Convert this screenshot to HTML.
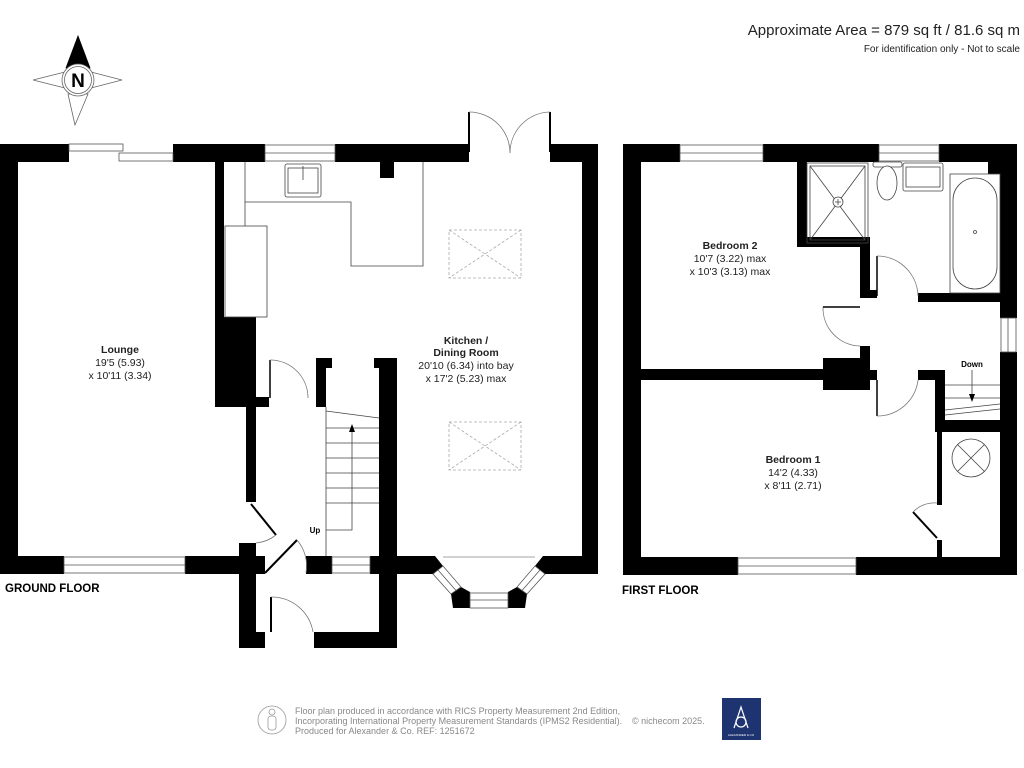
<!DOCTYPE html>
<html><head><meta charset="utf-8"><style>
html,body{margin:0;padding:0;background:#fff;}
svg{display:block;}
text{font-family:"Liberation Sans",sans-serif;}
</style></head><body>
<svg width="1024" height="768" viewBox="0 0 1024 768" xmlns="http://www.w3.org/2000/svg">
<rect width="1024" height="768" fill="#fff"/>
<!-- header -->
<text x="1020" y="35" font-size="15" text-anchor="end" fill="#222">Approximate Area = 879 sq ft / 81.6 sq m</text>
<text x="1020" y="52" font-size="10" text-anchor="end" fill="#222">For identification only - Not to scale</text>
<!-- compass -->
<g stroke="#666" stroke-width="0.8" fill="#fff">
<polygon points="33,80 65,72 65,88"/>
<polygon points="122,80 91,72 91,88"/>
<polygon points="75,125 68,94 88,94"/>
<polygon points="78,36 66,68 90,68" fill="#000" stroke="#000"/>
<circle cx="78" cy="80" r="16"/>
<circle cx="78" cy="80" r="13.5"/>
</g>
<text x="78" y="87" font-size="19" font-weight="bold" text-anchor="middle">N</text>

<!-- ===== GROUND FLOOR ===== -->
<g fill="#000">
<rect x="0" y="144" width="69" height="18"/>
<rect x="173" y="144" width="92" height="18"/>
<rect x="335" y="144" width="134" height="18"/>
<rect x="550" y="144" width="48" height="18"/>
<rect x="0" y="144" width="18" height="430"/>
<rect x="582" y="144" width="16" height="430"/>
<rect x="0" y="556" width="64" height="18"/>
<rect x="185" y="556" width="80" height="18"/>
<rect x="306" y="556" width="26" height="18"/>
<rect x="370" y="556" width="65" height="18"/>
<rect x="543" y="556" width="55" height="18"/>
<rect x="215" y="162" width="9" height="245"/>
<rect x="215" y="317" width="41" height="90"/>
<rect x="246" y="397" width="23" height="10"/>
<rect x="246" y="407" width="10" height="95"/>
<rect x="246" y="543" width="10" height="31"/>
<rect x="316" y="358" width="16" height="10"/>
<rect x="316" y="358" width="10" height="49"/>
<rect x="374" y="358" width="23" height="10"/>
<rect x="379" y="358" width="18" height="216"/>
<rect x="239" y="543" width="17" height="105"/>
<rect x="239" y="632" width="26" height="16"/>
<rect x="314" y="632" width="83" height="16"/>
<rect x="379" y="574" width="18" height="74"/>
<rect x="380" y="162" width="14" height="16"/>
<!-- bay -->
<polygon points="430,556 435,556 443,566 433,574 430,574"/>
<polygon points="451,594 461,587 470,592 470,608 453,608"/>
<polygon points="548,556 543,556 535,566 545,574 548,574"/>
<polygon points="527,594 517,587 508,592 508,608 525,608"/>
</g>
<g fill="#fff" stroke="#555" stroke-width="0.8">
<rect x="69" y="144" width="54" height="7"/>
<rect x="119" y="153" width="54" height="8"/>
<rect x="265" y="145" width="70" height="16"/>
<line x1="265" y1="153" x2="335" y2="153"/>
<rect x="64" y="557" width="121" height="16"/>
<line x1="64" y1="565" x2="185" y2="565"/>
<rect x="332" y="557" width="38" height="16"/>
<line x1="332" y1="565" x2="370" y2="565"/>
<rect x="470" y="593" width="38" height="15"/>
<line x1="470" y1="600" x2="508" y2="600"/>
<polygon points="433,574 443,566 461,587 451,594"/>
<line x1="438" y1="570" x2="456" y2="590.5"/>
<polygon points="545,574 535,566 517,587 527,594"/>
<line x1="540" y1="570" x2="522" y2="590.5"/>
<line x1="443" y1="557" x2="535" y2="557" stroke="#888"/>
</g>
<!-- french doors -->
<g fill="none" stroke="#000">
<line x1="469" y1="112" x2="469" y2="152" stroke-width="2"/>
<line x1="550" y1="112" x2="550" y2="152" stroke-width="2"/>
<path d="M469,112 A41,41 0 0 1 510,153" stroke="#777" stroke-width="0.8"/>
<path d="M550,112 A41,41 0 0 0 510,153" stroke="#777" stroke-width="0.8"/>
</g>
<!-- kitchen fittings -->
<g fill="none" stroke="#444" stroke-width="0.8">
<path d="M245,162 V226 M245,202 H351 V266 H423 V162"/>
<rect x="225" y="226" width="42" height="91" fill="#fff"/>
<rect x="285" y="164" width="36" height="33" rx="2"/>
<rect x="288" y="168" width="30" height="25"/>
<line x1="303" y1="166" x2="303" y2="180"/>
<g stroke="#aaa" stroke-dasharray="3,2">
<rect x="449" y="230" width="72" height="48"/>
<path d="M449,230 L521,278 M521,230 L449,278"/>
<rect x="449" y="422" width="72" height="48"/>
<path d="M449,422 L521,470 M521,422 L449,470"/>
</g>
<path d="M326,407 V556 M326,411 L379,418 M326,428 H379 M326,443 H379 M326,458 H379 M326,473 H379 M326,488 H379 M326,503 H379"/>
<path d="M326,530 H352 V428"/>
<line x1="270" y1="360" x2="270" y2="398" stroke="#000" stroke-width="1.5"/>
<path d="M270,360 A38,38 0 0 1 308,398" stroke="#777"/>
<line x1="251" y1="504" x2="276" y2="535" stroke="#000" stroke-width="2"/>
<path d="M256,543 A38,38 0 0 0 276,535" stroke="#777"/>
<line x1="265" y1="573" x2="297" y2="540" stroke="#000" stroke-width="2"/>
<path d="M297,540 A40,40 0 0 1 306,573" stroke="#777"/>
<line x1="271" y1="597" x2="271" y2="632" stroke="#000" stroke-width="2"/>
<path d="M271,597 A42,42 0 0 1 313,632" stroke="#777"/>
</g>
<polygon points="352,424 349,432 355,432" fill="#000"/>
<text x="315" y="533" font-size="8" font-weight="bold" text-anchor="middle">Up</text>
<g font-size="10.5" text-anchor="middle" fill="#222">
<text x="120" y="353" font-weight="bold">Lounge</text>
<text x="120" y="366">19'5 (5.93)</text>
<text x="120" y="379">x 10'11 (3.34)</text>
<text x="466" y="344" font-weight="bold">Kitchen /</text>
<text x="466" y="356" font-weight="bold">Dining Room</text>
<text x="466" y="369">20'10 (6.34) into bay</text>
<text x="466" y="382">x 17'2 (5.23) max</text>
</g>
<text x="5" y="592" font-size="11.5" font-weight="bold">GROUND FLOOR</text>

<!-- ===== FIRST FLOOR ===== -->
<g fill="#000">
<rect x="623" y="144" width="57" height="18"/>
<rect x="763" y="144" width="116" height="18"/>
<rect x="939" y="144" width="78" height="18"/>
<rect x="988" y="160" width="29" height="14"/>
<rect x="623" y="144" width="18" height="431"/>
<rect x="1000" y="144" width="17" height="174"/>
<rect x="1000" y="352" width="17" height="223"/>
<rect x="623" y="557" width="115" height="18"/>
<rect x="856" y="557" width="161" height="18"/>
<rect x="797" y="162" width="10" height="85"/>
<rect x="797" y="237" width="73" height="10"/>
<rect x="860" y="237" width="10" height="59"/>
<rect x="860" y="290" width="17" height="8"/>
<rect x="918" y="293" width="82" height="9"/>
<rect x="641" y="369" width="182" height="11"/>
<rect x="823" y="358" width="47" height="32"/>
<rect x="860" y="346" width="10" height="44"/>
<rect x="870" y="370" width="7" height="10"/>
<rect x="918" y="370" width="27" height="10"/>
<rect x="935" y="370" width="10" height="62"/>
<rect x="935" y="420" width="65" height="12"/>
<rect x="937" y="432" width="5" height="73"/>
<rect x="937" y="540" width="5" height="17"/>
</g>
<g fill="#fff" stroke="#555" stroke-width="0.8">
<rect x="680" y="145" width="83" height="16"/><line x1="680" y1="153" x2="763" y2="153"/>
<rect x="879" y="145" width="60" height="16"/><line x1="879" y1="153" x2="939" y2="153"/>
<rect x="738" y="558" width="118" height="16"/><line x1="738" y1="566" x2="856" y2="566"/>
<rect x="1001" y="318" width="15" height="34"/><line x1="1008" y1="318" x2="1008" y2="352"/>
</g>
<g fill="none" stroke="#444" stroke-width="0.8">
<rect x="807" y="163" width="61" height="80"/>
<rect x="810" y="166" width="55" height="74"/>
<path d="M810,166 L865,240 M865,166 L810,240"/>
<circle cx="838" cy="202" r="5" fill="#fff"/>
<path d="M835,202 H841 M838,199 V205"/>
<rect x="873" y="162" width="29" height="5" rx="2"/>
<ellipse cx="887" cy="183" rx="10" ry="17" fill="#fff"/>
<rect x="903" y="163" width="40" height="28" rx="2"/>
<rect x="906" y="167" width="34" height="20"/>
<rect x="950" y="174" width="50" height="119"/>
<rect x="953" y="178" width="44" height="111" rx="22"/>
<circle cx="975" cy="232" r="1.5"/>
<line x1="877" y1="256" x2="877" y2="296" stroke="#000" stroke-width="1.5"/>
<path d="M877,256 A41,41 0 0 1 918,296" stroke="#777"/>
<path d="M823,307 A38,38 0 0 0 860,346" stroke="#777"/>
<line x1="823" y1="307" x2="860" y2="307" stroke="#000" stroke-width="1.5"/>
<line x1="877" y1="380" x2="877" y2="416" stroke="#000" stroke-width="1.5"/>
<path d="M877,416 A41,41 0 0 0 918,380" stroke="#777"/>
<line x1="913" y1="512" x2="937" y2="538" stroke="#000" stroke-width="2"/>
<path d="M913,512 A30,30 0 0 1 937,503" stroke="#777"/>
<path d="M945,385 H1000 M945,398 H1000 M945,410 L1000,404 M945,415 L1000,409"/>
<line x1="972" y1="370" x2="972" y2="398"/>
<circle cx="971" cy="458" r="19"/>
<path d="M957.5,444.5 L984.5,471.5 M984.5,444.5 L957.5,471.5"/>
</g>
<polygon points="972,402 969,394 975,394" fill="#000"/>
<text x="972" y="367" font-size="8" font-weight="bold" text-anchor="middle">Down</text>
<g font-size="10.5" text-anchor="middle" fill="#222">
<text x="730" y="249" font-weight="bold">Bedroom 2</text>
<text x="730" y="262">10'7 (3.22) max</text>
<text x="730" y="275">x 10'3 (3.13) max</text>
<text x="793" y="463" font-weight="bold">Bedroom 1</text>
<text x="793" y="476">14'2 (4.33)</text>
<text x="793" y="489">x 8'11 (2.71)</text>
</g>
<text x="622" y="594" font-size="11.5" font-weight="bold">FIRST FLOOR</text>

<!-- footer -->
<g fill="none" stroke="#999" stroke-width="0.8">
<circle cx="272" cy="720" r="14"/>
<circle cx="272" cy="712" r="3"/>
<rect x="268" y="716" width="8" height="14" rx="3"/>
</g>
<g font-size="9" fill="#888">
<text x="295" y="714">Floor plan produced in accordance with RICS Property Measurement 2nd Edition,</text>
<text x="295" y="724">Incorporating International Property Measurement Standards (IPMS2 Residential).</text>
<text x="295" y="734">Produced for Alexander &amp; Co.   REF:  1251672</text>
<text x="632" y="724">© nichecom 2025.</text>
</g>
<rect x="722" y="698" width="39" height="42" fill="#1e3470"/>
<g fill="none" stroke="#fff" stroke-width="1.2">
<path d="M734,728 L741,707 L748,728"/>
<circle cx="741" cy="722" r="5"/>
</g>
<text x="741" y="736" font-size="3" fill="#fff" text-anchor="middle">ALEXANDER &amp; CO</text>
</svg>
</body></html>
